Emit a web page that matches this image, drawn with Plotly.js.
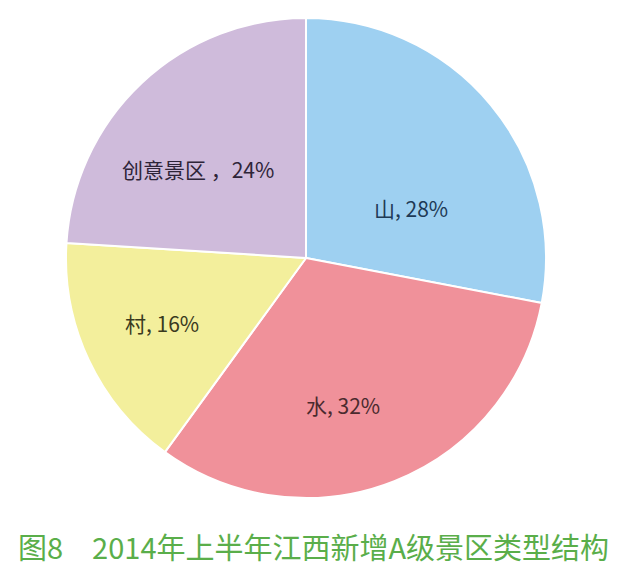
<!DOCTYPE html>
<html>
<head>
<meta charset="utf-8">
<script src="https://cdn.plot.ly/plotly-3.0.1.min.js"></script>
<style>html,body{margin:0;padding:0;background:#fff;}#chart{width:640px;height:579px;}</style>
</head>
<body>
<div id="chart"></div>
<script>
const categories = ["山", "水", "村", "创意景区"];
const values = [28, 32, 16, 24];
const labelTexts = ["山, 28%", "水, 32%", "村, 16%", "创意景区 ，24%"];
const colors = ["#9ED0F1", "#F0919A", "#F3EF9C", "#CFBBDB"];
const textColors = ["#1E3A56", "#4A2A2E", "#3A3A1E", "#2E2438"];
const captionText = "图8　2014年上半年江西新增A级景区类型结构";

// label anchor points in pixels (layout only)
const labelPos = [[411, 208], [343, 405], [162, 323], [198, 169]];
const W = 640, H = 579;

const data = [{
  type: "pie",
  labels: categories,
  values: values,
  textinfo: "none",
  sort: false,
  direction: "clockwise",
  rotation: 0,
  marker: { colors: colors, line: { color: "#ffffff", width: 2 } },
  hoverinfo: "none",
  domain: { x: [65/W, 547/W], y: [(H-498)/H, (H-18)/H] }
}];

const annotations = labelTexts.map((t, i) => ({
  text: t,
  xref: "paper", yref: "paper",
  x: labelPos[i][0] / W, y: 1 - labelPos[i][1] / H,
  xanchor: "center", yanchor: "middle",
  showarrow: false,
  font: { family: "Noto Sans CJK SC, sans-serif", size: 21, color: textColors[i] }
}));

annotations.push({
  text: captionText,
  xref: "paper", yref: "paper",
  x: 313.5 / W, y: 1 - 546 / H,
  xanchor: "center", yanchor: "middle",
  showarrow: false,
  font: { family: "Noto Sans CJK SC, sans-serif", size: 29, color: "#5AAE4A" }
});

const layout = {
  width: W, height: H,
  margin: { l: 0, r: 0, t: 0, b: 0 },
  paper_bgcolor: "#ffffff",
  showlegend: false,
  annotations: annotations
};

Plotly.newPlot("chart", data, layout, { staticPlot: true });
</script>
</body>
</html>
